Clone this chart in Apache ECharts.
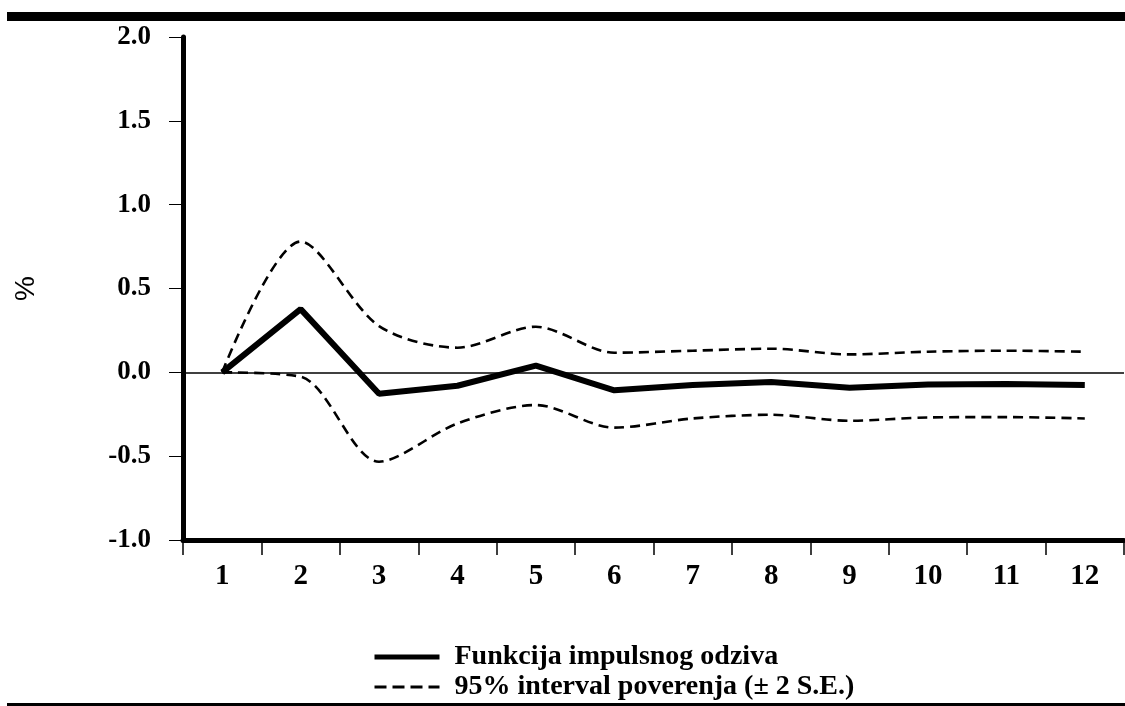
<!DOCTYPE html>
<html>
<head>
<meta charset="utf-8">
<script src="https://cdn.jsdelivr.net/npm/echarts@6/dist/echarts.min.js"></script>
<style>
html,body{margin:0;padding:0;background:#fff;}
#chart{width:1125px;height:706px;}
</style>
</head>
<body>
<div id="chart"></div>
<script>
const categories = ['1','2','3','4','5','6','7','8','9','10','11','12'];
const response = [0, 0.377, -0.128, -0.08, 0.04, -0.107, -0.076, -0.058, -0.092, -0.072, -0.07, -0.076];
const upperBand = [0, 0.78, 0.276, 0.147, 0.272, 0.117, 0.129, 0.141, 0.107, 0.123, 0.129, 0.123];
const lowerBand = [0, -0.026, -0.533, -0.305, -0.195, -0.33, -0.275, -0.253, -0.289, -0.269, -0.267, -0.275];
const yTicks = {min: -1, max: 2, interval: 0.5};
const nameResponse = 'Funkcija impulsnog odziva';
const nameBand = '95% interval poverenja (± 2 S.E.)';

const serif = '"Liberation Serif", "Times New Roman", serif';
const chart = echarts.init(document.getElementById('chart'), null, {renderer: 'canvas'});
const dashed = {color: '#000', width: 2.6, type: [10, 6]};
chart.setOption({
  animation: false,
  backgroundColor: '#fff',
  grid: {left: 183, right: 1, top: 37, bottom: 166, containLabel: false},
  graphic: [
    {type: 'rect', shape: {x: 7, y: 12, width: 1118, height: 9}, style: {fill: '#000'}, silent: true},
    {type: 'rect', shape: {x: 7, y: 703, width: 1118, height: 3}, style: {fill: '#000'}, silent: true}
  ],
  legend: {
    orient: 'vertical',
    left: 367,
    top: 638,
    itemWidth: 65,
    itemHeight: 14,
    itemGap: 2,
    itemStyle: {opacity: 0},
    data: [
      {name: nameResponse, itemStyle: {opacity: 0}, lineStyle: {color: '#000', width: 5, type: 'solid'}},
      {name: nameBand, itemStyle: {opacity: 0}, lineStyle: {color: '#000', width: 3, type: [12, 6]}}
    ],
    textStyle: {fontFamily: serif, fontWeight: 'bold', fontSize: 28, color: '#000', lineHeight: 28, padding: [0, 0, 0, 10]}
  },
  xAxis: {
    type: 'category',
    data: categories,
    boundaryGap: true,
    axisLine: {onZero: false, lineStyle: {color: '#000', width: 5}},
    axisTick: {show: true, length: 15, lineStyle: {color: '#000', width: 1.5}},
    axisLabel: {fontFamily: serif, fontWeight: 'bold', fontSize: 29, color: '#000', margin: 22}
  },
  yAxis: {
    type: 'value',
    min: yTicks.min,
    max: yTicks.max,
    interval: yTicks.interval,
    name: '%',
    nameLocation: 'middle',
    nameGap: 143,
    nameRotate: 90,
    nameTextStyle: {fontFamily: '"Liberation Sans", Arial, sans-serif', fontSize: 28, color: '#000'},
    axisLine: {show: true, lineStyle: {color: '#000', width: 5}},
    axisTick: {show: true, length: 14, lineStyle: {color: '#000', width: 1}},
    splitLine: {show: false},
    axisLabel: {fontFamily: serif, fontWeight: 'bold', fontSize: 27, color: '#000', margin: 32,
      formatter: v => v.toFixed(1)}
  },
  series: [
    {
      name: nameResponse, type: 'line', data: response, symbol: 'none', smooth: false,
      lineStyle: {color: '#000', width: 6}, itemStyle: {color: '#000'}, z: 5,
      markLine: {silent: true, symbol: 'none', label: {show: false},
        lineStyle: {color: '#000', width: 1.5, type: 'solid'}, data: [{yAxis: 0}]}
    },
    {name: nameBand, type: 'line', data: upperBand, symbol: 'none', smooth: 0.3, lineStyle: dashed, itemStyle: {color: '#000'}},
    {name: nameBand, type: 'line', data: lowerBand, symbol: 'none', smooth: 0.3, lineStyle: dashed, itemStyle: {color: '#000'}}
  ]
});
</script>
</body>
</html>
